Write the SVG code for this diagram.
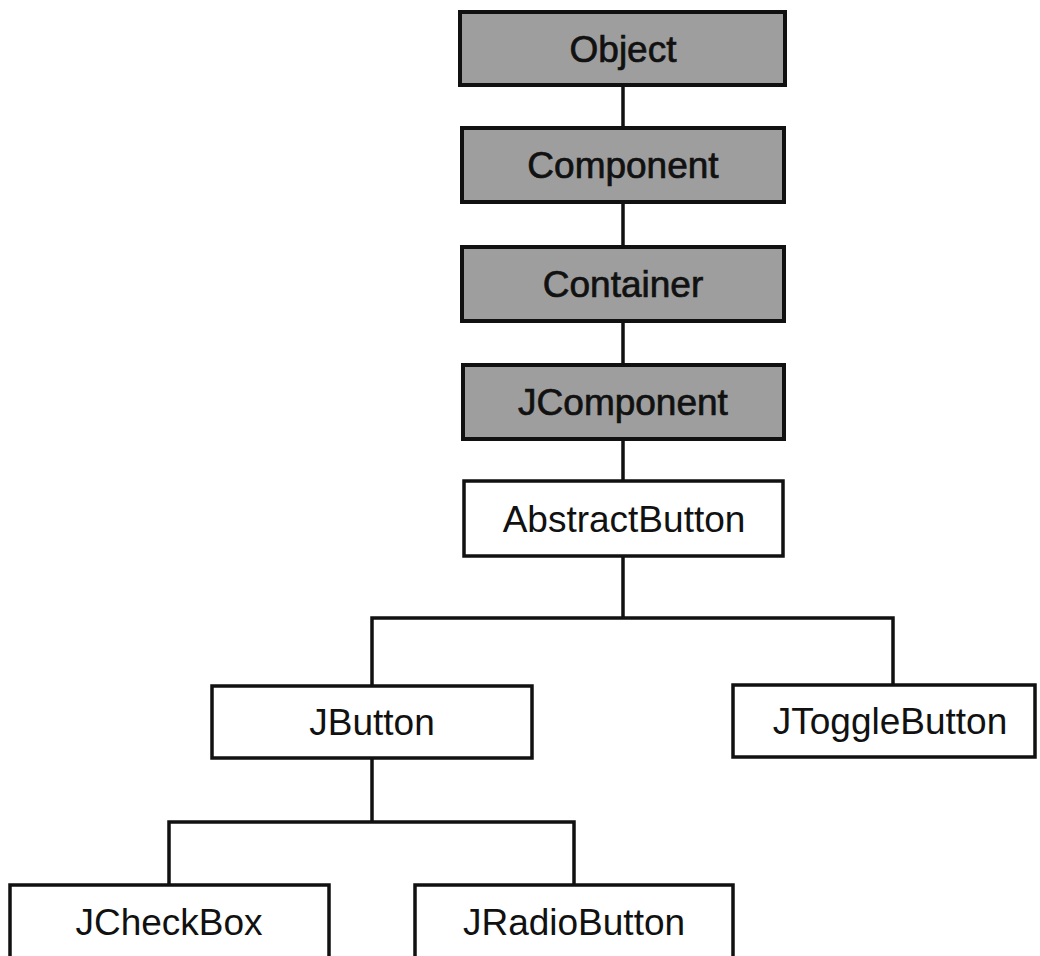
<svg xmlns="http://www.w3.org/2000/svg" width="1040" height="956" viewBox="0 0 1040 956">
  <style>
    .box { stroke: #111; stroke-width: 4; }
    .base { fill: #9e9e9e; }
    .btn { fill: #ffffff; stroke-width: 3.5; }
    .label { font-family: "Liberation Sans", Arial, sans-serif; font-size: 37px; fill: #111; text-anchor: middle; }
    .dark { stroke: #111; stroke-width: 0.7; }
    .link { fill: none; stroke: #111; stroke-width: 3.5; stroke-linejoin: miter; }
  </style>
  <rect width="1040" height="956" fill="#ffffff"/>

  <!-- inheritance lines -->
  <g id="connectors">
    <line class="link" x1="623" y1="85" x2="623" y2="128"/>
    <line class="link" x1="623" y1="202" x2="623" y2="247"/>
    <line class="link" x1="623" y1="321" x2="623" y2="365"/>
    <line class="link" x1="623" y1="439" x2="623" y2="481"/>
    <line class="link" x1="623" y1="556" x2="623" y2="618"/>
    <polyline class="link" points="372,686 372,618 893,618 893,685"/>
    <line class="link" x1="372" y1="758" x2="372" y2="822"/>
    <polyline class="link" points="169,885 169,822 574,822 574,885"/>
  </g>

  <g id="node-object">
    <rect class="box base" x="460" y="12" width="325" height="73"/>
    <text class="label dark" x="623" y="62">Object</text>
  </g>
  <g id="node-component">
    <rect class="box base" x="462" y="128" width="322" height="74"/>
    <text class="label dark" x="623" y="178">Component</text>
  </g>
  <g id="node-container">
    <rect class="box base" x="462" y="247" width="322" height="74"/>
    <text class="label dark" x="623" y="297">Container</text>
  </g>
  <g id="node-jcomponent">
    <rect class="box base" x="463" y="365" width="321" height="74"/>
    <text class="label dark" x="623" y="415">JComponent</text>
  </g>
  <g id="node-abstractbutton">
    <rect class="box btn" x="464" y="481" width="319" height="75"/>
    <text class="label" x="624" y="532">AbstractButton</text>
  </g>
  <g id="node-jbutton">
    <rect class="box btn" x="212" y="686" width="320" height="72"/>
    <text class="label" x="372" y="735">JButton</text>
  </g>
  <g id="node-jtogglebutton">
    <rect class="box btn" x="733" y="685" width="302" height="72"/>
    <text class="label" x="890" y="734">JToggleButton</text>
  </g>
  <g id="node-jcheckbox">
    <rect class="box btn" x="10" y="885" width="319" height="78"/>
    <text class="label" x="169" y="935">JCheckBox</text>
  </g>
  <g id="node-jradiobutton">
    <rect class="box btn" x="415" y="885" width="318" height="78"/>
    <text class="label" x="574" y="935">JRadioButton</text>
  </g>
</svg>
